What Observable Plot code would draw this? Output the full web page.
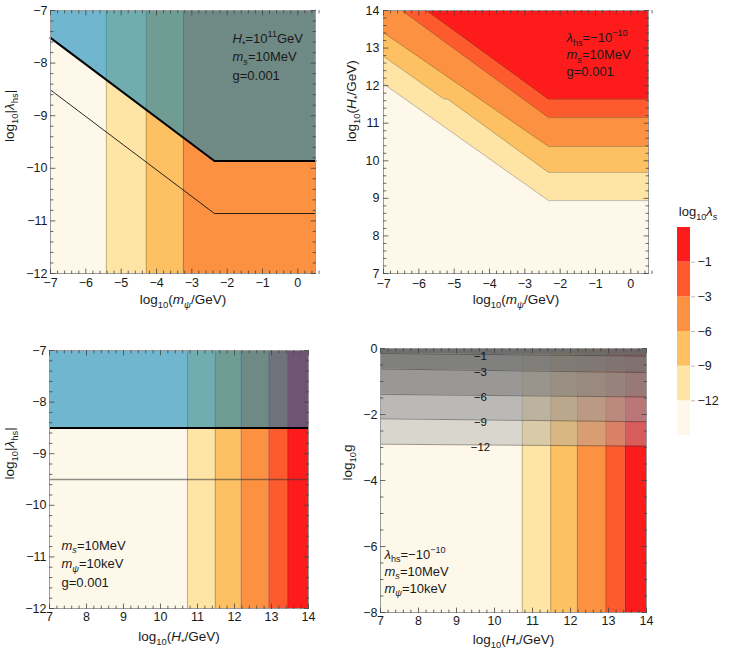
<!DOCTYPE html>
<html><head><meta charset="utf-8">
<script src="https://cdn.jsdelivr.net/npm/d3@7"></script>
<script src="https://cdn.jsdelivr.net/npm/@observablehq/plot@0.6"></script>
<style>
body{margin:0;background:#fff;}
#chart{position:relative;width:730px;height:657px;}
#chart svg{position:absolute;}
</style></head><body><div id="chart"></div>
<script>
// ---------------- data ----------------
const levelLabels = ["−12", "−9", "−6", "−3", "−1"];
const levelColors = ["#FEF8EA", "#FEE4A5", "#FDC062", "#FC9142", "#FD5B2D", "#FE1B1B"];

// Panel 1 (top-left): log10|λhs| vs log10 mψ
const p1XDomain = [-7, 0.5];
const p1YDomain = [-12, -7];
const p1BandEdges = [-7, -5.42, -4.29, -3.24, 0.5];
const p1LineX = [-7, -2.36, 0.5];
const p1ThickY = [-7.52, -9.86, -9.86];
const p1ThinY = [-8.51, -10.86, -10.86];
const p1Notes = ["~H~_{*}=10^{11}GeV", "~m~_{~s~}=10MeV", "g=0.001"];

// Panel 2 (top-right): log10 H* vs log10 mψ, contour boundaries [x, y]
const p2XDomain = [-7, 0.5];
const p2YDomain = [7, 14];
const p2Line12 = [[-7, 12.05], [-2.33, 8.94], [0.5, 8.94]];
const p2Line9 = [[-7, 12.78], [-5.30, 11.65], [-5.18, 11.64], [-2.33, 9.69], [0.5, 9.69]];
const p2Line6 = [[-7, 13.41], [-2.33, 10.38], [0.5, 10.38]];
const p2Line3 = [[-7, 14], [-6.48, 14], [-2.33, 11.15], [0.5, 11.15]];
const p2Line1 = [[-7, 14], [-5.78, 14], [-2.33, 11.64], [0.5, 11.64]];
const p2Notes = ["~λ~_{hs}=−10^{−10}", "~m~_{~s~}=10MeV", "g=0.001"];

// Panels 3 & 4: vs log10 H*
const hXDomain = [7, 14];
const hBandEdges = [7, 10.73, 11.48, 12.18, 12.93, 13.44, 14];
const p3YDomain = [-12, -7];
const p3ThickY = -8.5;
const p3ThinY = -9.5;
const p3Notes = ["~m~_{~s~}=10MeV", "~m~_{~ψ~}=10keV", "g=0.001"];

const p4YDomain = [-8, 0];
const p4GrayLeftY = [-2.90, -2.13, -1.39, -0.62, -0.15];   // at H = 7
const p4GrayRightY = [-2.96, -2.22, -1.47, -0.73, -0.23];  // at H = 14
const p4GrayLabelX = 9.63;
const p4Notes = ["~λ~_{hs}=−10^{−10}", "~m~_{~s~}=10MeV", "~m~_{~ψ~}=10keV"];

// ---------------- helpers ----------------
const FONT = '"Liberation Sans", Arial, Helvetica, sans-serif';
const fmt = d => (d < 0 ? "−" : "") + Math.abs(d);
const tickShape = {draw(ctx, l) { ctx.moveTo(0, 0); ctx.lineTo(0, -l); }};
const NS = "http://www.w3.org/2000/svg";

function parseRich(s) {
  const out = [];
  let italic = false;
  const re = /_\{([^}]*)\}|\^\{([^}]*)\}/g;
  let last = 0, m;
  const push = (str, kind) => {
    str.split("~").forEach((p, j) => {
      if (j > 0) italic = !italic;
      if (p) out.push({text: p, italic, kind});
    });
  };
  while ((m = re.exec(s))) {
    push(s.slice(last, m.index), null);
    if (m[1] !== undefined) push(m[1], "sub"); else push(m[2], "sup");
    last = re.lastIndex;
  }
  push(s.slice(last), null);
  return out;
}
function richify(svg) {
  svg.querySelectorAll("text").forEach(t => {
    const kids = t.querySelectorAll("tspan");
    const els = kids.length ? Array.from(kids) : [t];
    for (const el of els) {
      const s = el.textContent;
      if (!/[_^~]/.test(s)) continue;
      while (el.firstChild) el.removeChild(el.firstChild);
      let shift = 0;
      for (const seg of parseRich(s)) {
        const ts = document.createElementNS(NS, "tspan");
        ts.textContent = seg.text;
        if (seg.italic) ts.setAttribute("font-style", "italic");
        let target = 0, f = 1;
        if (seg.kind === "sub") { target = 0.3; f = 0.7; }
        if (seg.kind === "sup") { target = -0.42; f = 0.7; }
        if (f !== 1) ts.setAttribute("font-size", "70%");
        const delta = target - shift;
        if (Math.abs(delta) > 1e-9) ts.setAttribute("dy", (delta / f).toFixed(3) + "em");
        shift = target;
        el.appendChild(ts);
      }
    }
  });
}
function minorTicks(lo, hi, step, major) {
  return d3.range(Math.round(lo / step), Math.round(hi / step) + 1)
    .map(k => +(k * step).toFixed(6))
    .filter(v => !major.some(m => Math.abs(m - v) < 1e-6));
}
function tick(data, ch, anchor, rot, len) {
  return Plot.vector(data, {[ch]: d => d, frameAnchor: anchor, length: len, rotate: rot,
    anchor: "start", shape: tickShape, stroke: "#444", strokeWidth: 0.8});
}
const bandsOf = (edges) => edges.slice(0, -1).map((x1, i) => ({x1, x2: edges[i + 1], fill: levelColors[i]}));
const pts = arr => arr.map(([x, y]) => ({x, y}));

function makePanel(o) {
  const xMin = minorTicks(o.xDomain[0], o.xDomain[1], o.xMinorStep, o.xMajor);
  const yMin = minorTicks(o.yDomain[0], o.yDomain[1], o.yMinorStep, o.yMajor);
  const svg = Plot.plot({
    width: o.width, height: o.height,
    marginLeft: o.m[0], marginRight: o.m[1], marginTop: o.m[2], marginBottom: o.m[3],
    x: {domain: o.xDomain, label: null},
    y: {domain: o.yDomain, label: null},
    color: {type: "identity"},
    style: {fontFamily: FONT, fontSize: "12.5px", background: "transparent", color: "#1a1a1a", overflow: "visible"},
    marks: [
      ...o.marks,
      Plot.frame({stroke: "#9c9c9c", strokeWidth: 1}),
      tick(o.xMajor, "x", "bottom", 0, 4.5), tick(xMin, "x", "bottom", 0, 2.5),
      tick(o.xMajor, "x", "top", 180, 4.5), tick(xMin, "x", "top", 180, 2.5),
      tick(o.yMajor, "y", "left", 90, 4.5), tick(yMin, "y", "left", 90, 2.5),
      tick(o.yMajor, "y", "right", 270, 4.5), tick(yMin, "y", "right", 270, 2.5),
      Plot.axisX(o.xMajor, {anchor: "bottom", tickSize: 0, tickPadding: o.xPad, tickFormat: fmt, label: null}),
      Plot.axisY(o.yMajor, {anchor: "left", tickSize: 0, tickPadding: o.yPad, tickFormat: fmt, label: null}),
      Plot.text([o.xLabel], {text: d => d, frameAnchor: "bottom", dy: o.xLabelDy, fontSize: 13.5}),
      Plot.text([o.yLabel], {text: d => d, frameAnchor: "left", dx: o.yLabelDx, rotate: -90, fontSize: 13.5}),
      ...o.notes.map((s, i) => Plot.text([s], {text: d => d, frameAnchor: o.noteAnchor, dx: o.noteDx,
        dy: o.noteDy + i * o.noteStep, textAnchor: "start", fontSize: 13}))
    ]
  });
  svg.style.left = o.left + "px";
  svg.style.top = o.top + "px";
  richify(svg);
  document.getElementById("chart").appendChild(svg);
}

const bandLine = {stroke: "#000", strokeOpacity: 0.28, strokeWidth: 0.9};
const blueOverlay = {fill: "rgb(0,130,186)", fillOpacity: 0.56};

// ---------------- panel 1 ----------------
const p1Thick = p1LineX.map((x, i) => ({x, y: p1ThickY[i]}));
const p1Thin = p1LineX.map((x, i) => ({x, y: p1ThinY[i]}));
makePanel({
  left: 0, top: 0, width: 330, height: 310, m: [50, 15, 10, 37],
  xDomain: p1XDomain, yDomain: p1YDomain,
  xMajor: d3.range(-7, 1), yMajor: d3.range(-12, -6), xMinorStep: 0.2, yMinorStep: 0.2,
  xPad: 5, yPad: 3,
  xLabel: "log_{10}(~m~_{~ψ~}/GeV)", yLabel: "log_{10}|~λ~_{hs}|", xLabelDy: 30, yLabelDx: -41,
  notes: p1Notes, noteAnchor: "top-left", noteDx: 182, noteDy: 23, noteStep: 18.5,
  marks: [
    Plot.rect(bandsOf(p1BandEdges), {x1: "x1", x2: "x2", y1: p1YDomain[0], y2: p1YDomain[1], fill: "fill"}),
    Plot.ruleX(p1BandEdges.slice(1, -1), {...bandLine}),
    Plot.areaY(p1Thick, {x: "x", y1: "y", y2: p1YDomain[1], ...blueOverlay}),
    Plot.line(p1Thin, {x: "x", y: "y", stroke: "#111", strokeWidth: 0.9}),
    Plot.line(p1Thick, {x: "x", y: "y", stroke: "#000", strokeWidth: 2})
  ]
});

// ---------------- panel 2 ----------------
const p2Lines = [p2Line12, p2Line9, p2Line6, p2Line3, p2Line1].map(pts);
makePanel({
  left: 330, top: 0, width: 330, height: 310, m: [53, 12, 10, 37],
  xDomain: p2XDomain, yDomain: p2YDomain,
  xMajor: d3.range(-7, 1), yMajor: d3.range(7, 15), xMinorStep: 0.2, yMinorStep: 0.2,
  xPad: 6, yPad: 4,
  xLabel: "log_{10}(~m~_{~ψ~}/GeV)", yLabel: "log_{10}(~H~_{*}/GeV)", xLabelDy: 30, yLabelDx: -32,
  notes: p2Notes, noteAnchor: "top-left", noteDx: 183, noteDy: 22, noteStep: 17,
  marks: [
    Plot.frame({fill: levelColors[0], stroke: null}),
    ...p2Lines.map((L, i) => Plot.areaY(L, {x: "x", y1: "y", y2: p2YDomain[1], fill: levelColors[i + 1]})),
    ...p2Lines.map(L => Plot.line(L, {x: "x", y: "y", ...bandLine}))
  ]
});

// ---------------- panel 3 ----------------
makePanel({
  left: 0, top: 310, width: 330, height: 347, m: [49, 22, 40, 49],
  xDomain: hXDomain, yDomain: p3YDomain,
  xMajor: d3.range(7, 15), yMajor: d3.range(-12, -6), xMinorStep: 0.2, yMinorStep: 0.2,
  xPad: 4, yPad: 3,
  xLabel: "log_{10}(~H~_{*}/GeV)", yLabel: "log_{10}|~λ~_{hs}|", xLabelDy: 32, yLabelDx: -40,
  notes: p3Notes, noteAnchor: "bottom-left", noteDx: 12, noteDy: -59, noteStep: 18.5,
  marks: [
    Plot.rect(bandsOf(hBandEdges), {x1: "x1", x2: "x2", y1: p3YDomain[0], y2: p3YDomain[1], fill: "fill"}),
    Plot.ruleX(hBandEdges.slice(1, -1), {...bandLine}),
    Plot.rect([p3ThickY], {x1: hXDomain[0], x2: hXDomain[1], y1: d => d, y2: p3YDomain[1], ...blueOverlay}),
    Plot.ruleY([p3ThinY], {stroke: "#333", strokeOpacity: 0.55, strokeWidth: 1.6}),
    Plot.ruleY([p3ThickY], {stroke: "#000", strokeWidth: 2})
  ]
});

// ---------------- panel 4 ----------------
const grayFill = ["rgb(172,172,172)", "rgb(158,158,158)", "rgb(136,136,136)", "rgb(118,118,118)", "rgb(104,104,104)"];
const grayOpacity = [0.45, 0.70, 0.86, 0.93, 0.96];
const nG = p4GrayLeftY.length;
const grayBands = p4GrayLeftY.map((yl, i) => [
  {x: hXDomain[0], y1: yl, y2: i + 1 < nG ? p4GrayLeftY[i + 1] : p4YDomain[1]},
  {x: hXDomain[1], y1: p4GrayRightY[i], y2: i + 1 < nG ? p4GrayRightY[i + 1] : p4YDomain[1]}
]);
const grayIdx = d3.range(nG);
const t = (p4GrayLabelX - hXDomain[0]) / (hXDomain[1] - hXDomain[0]);
makePanel({
  left: 330, top: 310, width: 330, height: 347, m: [50, 14, 38, 45],
  xDomain: hXDomain, yDomain: p4YDomain,
  xMajor: d3.range(7, 15), yMajor: [-8, -6, -4, -2, 0], xMinorStep: 0.2, yMinorStep: 0.5,
  xPad: 4, yPad: 3,
  xLabel: "log_{10}(~H~_{*}/GeV)", yLabel: "log_{10}g", xLabelDy: 31, yLabelDx: -33,
  notes: p4Notes, noteAnchor: "bottom-left", noteDx: 4, noteDy: -54, noteStep: 17,
  marks: [
    Plot.rect(bandsOf(hBandEdges), {x1: "x1", x2: "x2", y1: p4YDomain[0], y2: p4YDomain[1], fill: "fill"}),
    Plot.ruleX(hBandEdges.slice(1, -1), {...bandLine}),
    ...grayBands.map((B, i) => Plot.areaY(B, {x: "x", y1: "y1", y2: "y2", fill: grayFill[i], fillOpacity: grayOpacity[i]})),
    Plot.link(grayIdx, {x1: hXDomain[0], x2: hXDomain[1], y1: i => p4GrayLeftY[i], y2: i => p4GrayRightY[i],
      stroke: "#333", strokeOpacity: 0.55, strokeWidth: 0.9}),
    Plot.text(grayIdx, {x: p4GrayLabelX, y: i => p4GrayLeftY[i] + (p4GrayRightY[i] - p4GrayLeftY[i]) * t,
      text: i => levelLabels[i], dy: 2, fontSize: 11.5, fill: "#111"})
  ]
});

// ---------------- legend ----------------
const legend = Plot.plot({
  width: 80, height: 270, marginLeft: 27, marginRight: 40, marginTop: 47, marginBottom: 15,
  x: {domain: [0, 1], axis: null}, y: {domain: [0, levelColors.length], axis: null},
  color: {type: "identity"},
  style: {fontFamily: FONT, fontSize: "12.5px", background: "transparent", color: "#1a1a1a", overflow: "visible"},
  marks: [
    Plot.rect(levelColors, {x1: 0, x2: 1, y1: (d, i) => i, y2: (d, i) => i + 1, fill: d => d}),
    Plot.axisY(d3.range(1, levelColors.length), {anchor: "right", tickSize: 4, tickPadding: 3,
      tickFormat: i => levelLabels[i - 1], stroke: "#bbb", label: null}),
    Plot.text(["log_{10}~λ~_{~s~}"], {text: d => d, frameAnchor: "top", dx: 14, dy: -21, fontSize: 13})
  ]
});
legend.style.left = "650px";
legend.style.top = "180px";
richify(legend);
document.getElementById("chart").appendChild(legend);
</script></body></html>
